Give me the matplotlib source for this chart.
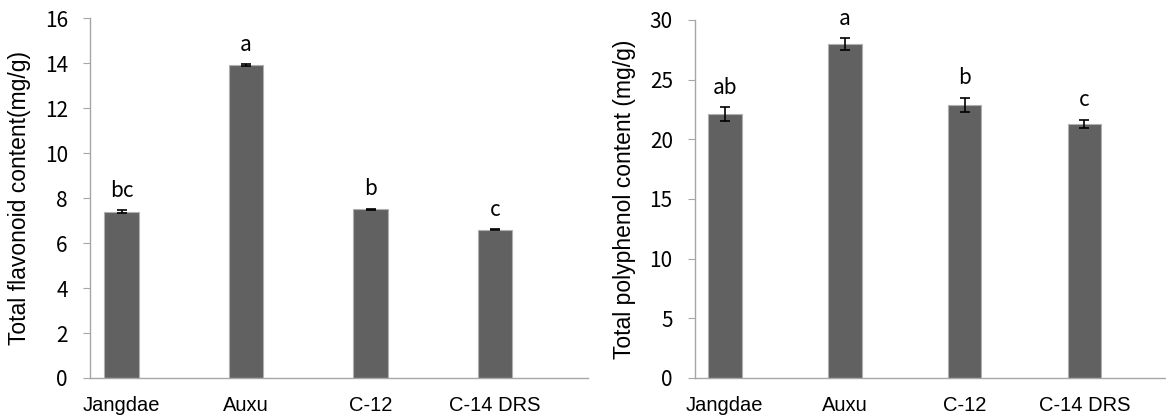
import numpy as np
import matplotlib
matplotlib.use('Agg')
import matplotlib.pyplot as plt

cultivars = ['Jangdae', 'Auxu', 'C-12', 'C-14 DRS']

flavonoid = [7.4, 13.9, 7.5, 6.6]
flavonoid_err = [0.05, 0.05, 0.03, 0.02]
flavonoid_letters = ['bc', 'a', 'b', 'c']

polyphenol = [22.1, 28.0, 22.9, 21.3]
polyphenol_err = [0.6, 0.5, 0.6, 0.35]
polyphenol_letters = ['ab', 'a', 'b', 'c']

tick_font = 'Noto Sans CJK KR'
label_font = 'Liberation Sans'

fig = plt.figure(figsize=(11.66, 4.2), dpi=100)
ax1 = fig.add_axes([0.0772, 0.1, 0.4271, 0.8571])
ax2 = fig.add_axes([0.596, 0.1, 0.404, 0.8524])

panels = [
    (ax1, flavonoid, flavonoid_err, flavonoid_letters, 16, 2,
     'Total flavonoid content(mg/g)', (-0.253, 3.747)),
    (ax2, polyphenol, polyphenol_err, polyphenol_letters, 30, 5,
     'Total polyphenol content (mg/g)', (-0.25, 3.68)),
]

for ax, vals, errs, letters, ymax, step, ylab, xl in panels:
    x = np.arange(len(cultivars))
    ax.bar(x, vals, width=0.28, color='#616161', edgecolor='#b0b0b0',
           linewidth=0.8, zorder=2)
    ax.errorbar(x, vals, yerr=errs, fmt='none', ecolor='black',
                elinewidth=1.2, capsize=3.5, capthick=1.2, zorder=3)
    for xi, v, e, t in zip(x, vals, errs, letters):
        ax.annotate(t, (xi, v + e), xytext=(0, 6), textcoords='offset points',
                    ha='center', va='bottom', fontsize=15, family=tick_font)
    ax.set_ylim(0, ymax)
    ax.set_xlim(*xl)
    ax.set_yticks(np.arange(0, ymax + 1, step))
    ax.set_xticks(x)
    ax.set_xticklabels(cultivars)
    ax.set_ylabel(ylab, fontsize=16.5, family=label_font, labelpad=10)
    for s in ['top', 'right']:
        ax.spines[s].set_visible(False)
    for s in ['left', 'bottom']:
        ax.spines[s].set_color('#a6a6a6')
        ax.spines[s].set_linewidth(1.0)
    ax.tick_params(axis='y', direction='out', length=5, color='#a6a6a6',
                   labelsize=15, pad=11)
    ax.tick_params(axis='x', length=0, labelsize=14.5, pad=13)
    for lab in ax.get_yticklabels():
        lab.set_family(tick_font)
    for lab in ax.get_xticklabels():
        lab.set_family(label_font)

fig.savefig('out.png', dpi=100)
